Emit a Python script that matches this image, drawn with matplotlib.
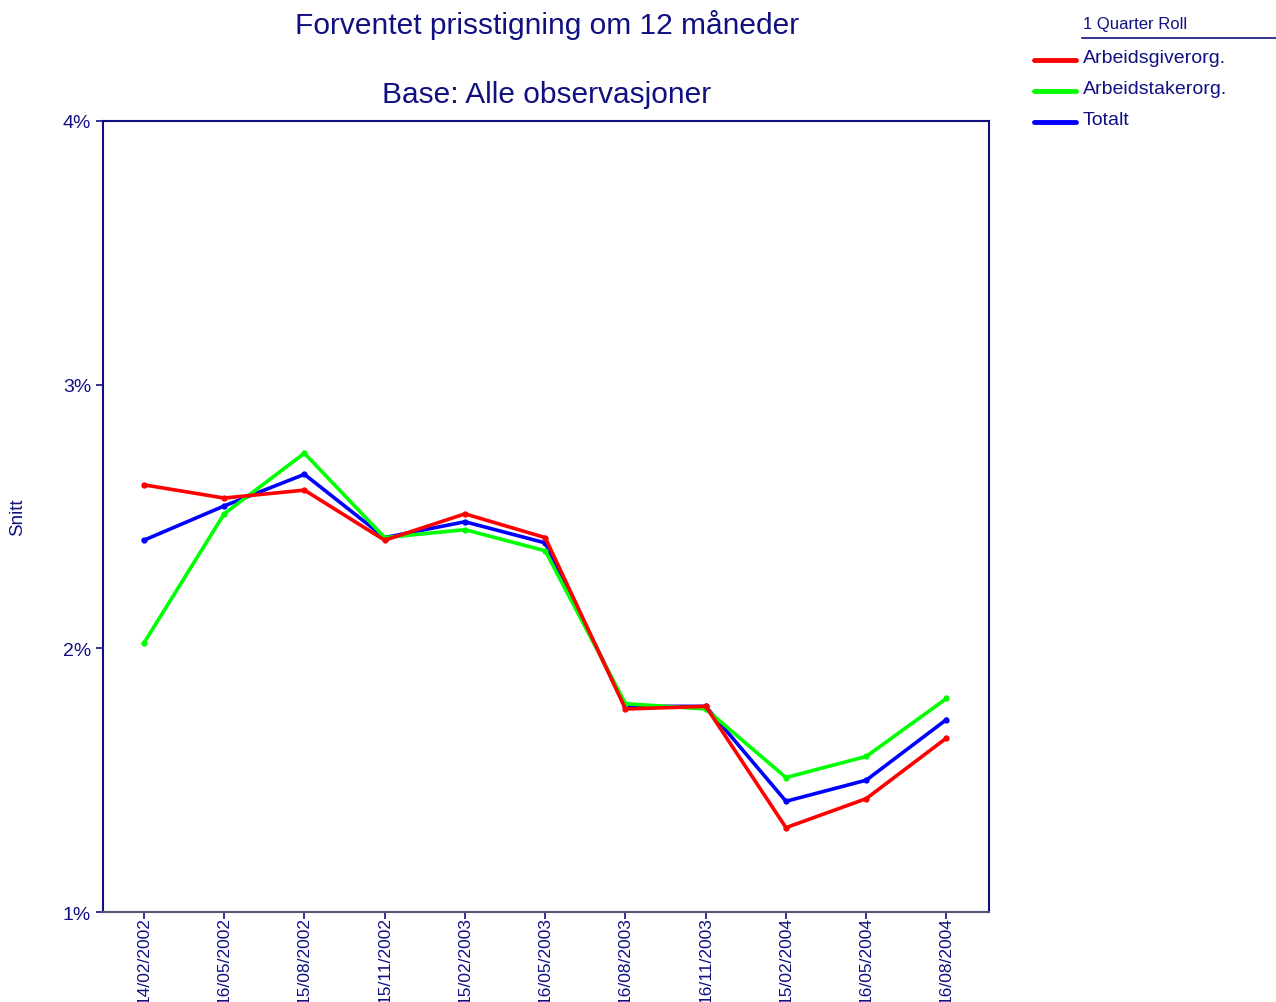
import numpy as np
import matplotlib.pyplot as plt
from matplotlib.lines import Line2D

plt.rcParams['font.family'] = ['Liberation Sans', 'DejaVu Sans']

NAVY = "#101080"

dates = ["14/02/2002", "16/05/2002", "15/08/2002", "15/11/2002", "15/02/2003",
         "16/05/2003", "16/08/2003", "16/11/2003", "15/02/2004", "16/05/2004",
         "16/08/2004"]
arbeidsgiver = [2.62, 2.57, 2.60, 2.41, 2.51, 2.42, 1.77, 1.78, 1.32, 1.43, 1.66]
arbeidstaker = [2.02, 2.51, 2.74, 2.42, 2.45, 2.37, 1.79, 1.77, 1.51, 1.59, 1.81]
totalt = [2.41, 2.54, 2.66, 2.42, 2.48, 2.40, 1.78, 1.78, 1.42, 1.50, 1.73]

fig = plt.figure(figsize=(12.76, 10.03), dpi=100)
ax = fig.add_axes([0.0807, 0.0897, 0.6944, 0.7887])

x = np.arange(len(dates))
ax.plot(x, totalt, color="#0000ff", lw=2.6, marker="o", ms=3.5, zorder=3)
ax.plot(x, arbeidstaker, color="#00ff00", lw=2.6, marker="o", ms=3.5, zorder=4)
ax.plot(x, arbeidsgiver, color="#ff0000", lw=2.6, marker="o", ms=3.5, zorder=5)

ax.set_xlim(-0.51, 10.53)
ax.set_ylim(1, 4)
ax.set_yticks([1, 2, 3, 4])
ax.set_yticklabels(["1%", "2%", "3%", "4%"])
ax.set_xticks(x)
ax.set_xticklabels(dates, rotation=90, va="top")

for s in ax.spines.values():
    s.set_color(NAVY)
    s.set_linewidth(1.5)
ax.spines["bottom"].set_color("#555577")
ax.tick_params(colors=NAVY, labelcolor=NAVY, labelsize=14, length=5, width=1.2)
ax.tick_params(axis="x", pad=-2, labelsize=12.5)

fig.text(18 / 1276, 1 - 517 / 1003, "Snitt", color=NAVY, fontsize=13.5,
         rotation=90, ha="center", va="center")

fig.text(547 / 1276, 1 - 25 / 1003, "Forventet prisstigning om 12 måneder",
         color=NAVY, fontsize=21.5, ha="center", va="center")
fig.text(547 / 1276, 1 - 95 / 1003, "Base: Alle observasjoner", color=NAVY,
         fontsize=21.5, ha="center", va="center")

# legend
fig.text(1083 / 1276, 1 - 25 / 1003, "1 Quarter Roll", color=NAVY,
         fontsize=12, ha="left", va="center")
fig.add_artist(Line2D([1082 / 1276, 1276 / 1276], [1 - 39 / 1003] * 2,
                      color=NAVY, lw=1.2))
labels = ["Arbeidsgiverorg.", "Arbeidstakerorg.", "Totalt"]
colors = ["#ff0000", "#00ff00", "#0000ff"]
for i, (lab, c) in enumerate(zip(labels, colors)):
    yy = 1 - (61 + 31 * i) / 1003
    fig.add_artist(Line2D([1034 / 1276, 1076 / 1276], [yy, yy], color=c,
                          lw=3.5, solid_capstyle="round"))
    fig.text(1083 / 1276, yy + 0.002, lab, color=NAVY, fontsize=14,
             ha="left", va="center")

fig.savefig("out.png", dpi=100)
